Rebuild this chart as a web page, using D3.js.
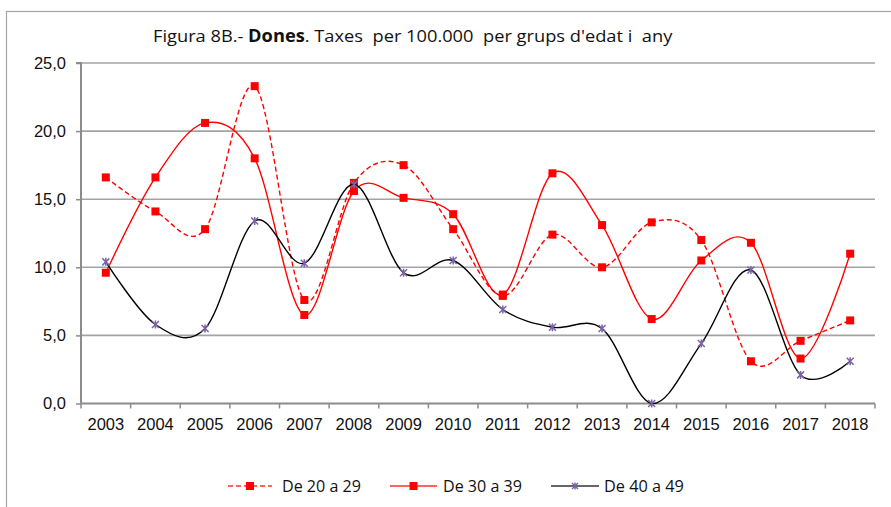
<!DOCTYPE html>
<html>
<head>
<meta charset="utf-8">
<script src="https://cdn.jsdelivr.net/npm/d3@7"></script>
<style>
  html, body { margin: 0; padding: 0; background: #fff; }
  svg { display: block; }
</style>
</head>
<body>
<svg id="chart" width="891" height="507"></svg>
<script>
const years = ["2003","2004","2005","2006","2007","2008","2009","2010","2011","2012","2013","2014","2015","2016","2017","2018"];
const s20_29 = [16.6, 14.1, 12.8, 23.3, 7.6, 16.2, 17.5, 12.8, 7.9, 12.4, 10.0, 13.3, 12.0, 3.1, 4.6, 6.1];
const s30_39 = [9.6, 16.6, 20.6, 18.0, 6.5, 15.6, 15.1, 13.9, 8.0, 16.9, 13.1, 6.2, 10.5, 11.8, 3.3, 11.0];
const s40_49 = [10.4, 5.8, 5.5, 13.4, 10.3, 16.1, 9.6, 10.5, 6.9, 5.6, 5.5, 0.0, 4.4, 9.8, 2.1, 3.1];
const yTicks = [0, 5, 10, 15, 20, 25];
const yTickLabels = ["0,0", "5,0", "10,0", "15,0", "20,0", "25,0"];
const seriesNames = ["De 20 a 29", "De 30 a 39", "De 40 a 49"];
const titleParts = [
  {t: "Figura 8B.- ", b: false},
  {t: "Dones", b: true},
  {t: ". Taxes  per 100.000  per grups d'edat i  any", b: false}
];

const svg = d3.select("#chart");
const RED = "#ff0000", PURPLE = "#7a63a8", GRID = "#a3a3a3", AXIS = "#8c8c8c";

// Outer frame
svg.append("rect").attr("x", 6.5).attr("y", 11.5).attr("width", 900).attr("height", 520)
  .attr("fill", "none").attr("stroke", "#a6a6a6").attr("stroke-width", 1.2);

const x = d3.scaleBand().domain(years).range([81, 875]);
const y = d3.scaleLinear().domain([0, 25]).range([403.5, 63]);
const cx = d => x(d) + x.bandwidth() / 2;

// Grid lines
svg.append("g").selectAll("line").data(yTicks.filter(v => v > 0)).join("line")
  .attr("x1", 81).attr("x2", 875).attr("y1", d => y(d)).attr("y2", d => y(d))
  .attr("stroke", GRID).attr("stroke-width", 1.6);

// Y axis
const yAxis = d3.axisLeft(y).tickValues(yTicks).tickSize(5)
  .tickFormat((d, i) => yTickLabels[i]);
const gy = svg.append("g").attr("transform", "translate(81,0)").call(yAxis);
gy.select(".domain").attr("stroke", AXIS).attr("stroke-width", 2).attr("d", `M-5,${y(25)}H0V${y(0)}`);
gy.selectAll(".tick line").attr("stroke", AXIS).attr("stroke-width", 1.5);
gy.selectAll(".tick text").attr("x", -15).attr("fill", "#111")
  .style("font-family", "'Liberation Sans', Arial, sans-serif").style("font-size", "16.5px");

// X axis
const gx = svg.append("g").attr("transform", `translate(0,${y(0)})`);
gx.append("line").attr("x1", 81).attr("x2", 875).attr("y1", 0).attr("y2", 0)
  .attr("stroke", AXIS).attr("stroke-width", 2);
const bounds = years.map(d => x(d)).concat([x(years[years.length - 1]) + x.bandwidth()]);
gx.selectAll("line.tk").data(bounds).join("line").attr("class", "tk")
  .attr("x1", d => d).attr("x2", d => d).attr("y1", 0).attr("y2", 5)
  .attr("stroke", AXIS).attr("stroke-width", 1.5);
gx.selectAll("text").data(years).join("text")
  .attr("x", d => cx(d)).attr("y", 26.5).attr("text-anchor", "middle").attr("fill", "#111")
  .style("font-family", "'Liberation Sans', Arial, sans-serif").style("font-size", "16.5px")
  .text(d => d);

// Lines
const line = d3.line().x((d, i) => cx(years[i])).y(d => y(d)).curve(d3.curveCatmullRom.alpha(0));

function squares(g, data) {
  g.selectAll("rect").data(data).join("rect")
    .attr("x", (d, i) => cx(years[i]) - 4).attr("y", d => y(d) - 4)
    .attr("width", 8).attr("height", 8).attr("fill", RED);
}
const starPath = "M-3.5,-3.5L3.5,3.5M-3.5,3.5L3.5,-3.5M0,-4L0,4";

const g1 = svg.append("g");
g1.append("path").attr("d", line(s20_29)).attr("fill", "none").attr("stroke", RED)
  .attr("stroke-width", 1.4).attr("stroke-dasharray", "5,3");
squares(g1, s20_29);

const g2 = svg.append("g");
g2.append("path").attr("d", line(s30_39)).attr("fill", "none").attr("stroke", RED).attr("stroke-width", 1.4);
squares(g2, s30_39);

const g3 = svg.append("g");
g3.append("path").attr("d", line(s40_49)).attr("fill", "none").attr("stroke", "#000").attr("stroke-width", 1.4);
g3.selectAll("path.star").data(s40_49).join("path").attr("class", "star")
  .attr("transform", (d, i) => `translate(${cx(years[i])},${y(d)})`)
  .attr("d", starPath).attr("stroke", PURPLE).attr("stroke-width", 1.5).attr("fill", "none");

// Fit helper: scale text horizontally to a target width
function fit(sel, x0, yb, w) {
  const bw = sel.node().getComputedTextLength();
  sel.attr("transform", `translate(${x0},${yb}) scale(${w / bw},1)`);
}

// Title
const title = svg.append("text").attr("x", 0).attr("y", 0)
  .style("font-family", "'Open Sans', 'Noto Sans', sans-serif").style("font-size", "17px")
  .style("white-space", "pre").attr("fill", "#111");
titleParts.forEach(p => title.append("tspan").attr("font-weight", p.b ? "bold" : "normal").text(p.t));
fit(title, 153, 42, 520);

// Legend
const legend = svg.append("g");
const legendItems = [
  {name: seriesNames[0], x0: 228, x1: 272, tx: 282, tw: 79, dash: "5,3", color: RED, mark: "sq"},
  {name: seriesNames[1], x0: 390, x1: 437, tx: 443, tw: 79, dash: null, color: RED, mark: "sq"},
  {name: seriesNames[2], x0: 551, x1: 599, tx: 604, tw: 80, dash: null, color: "#000", mark: "star"}
];
legendItems.forEach(it => {
  const ly = 486;
  const l = legend.append("line").attr("x1", it.x0).attr("x2", it.x1).attr("y1", ly).attr("y2", ly)
    .attr("stroke", it.color === RED ? "#ff3030" : "#333").attr("stroke-width", 1.4);
  if (it.dash) l.attr("stroke-dasharray", it.dash);
  const mx = (it.x0 + it.x1) / 2;
  if (it.mark === "sq") {
    legend.append("rect").attr("x", mx - 4).attr("y", ly - 4).attr("width", 8).attr("height", 8).attr("fill", RED);
  } else {
    legend.append("path").attr("d", "M-3,-3L3,3M-3,3L3,-3M0,-3.5L0,3.5")
      .attr("transform", `translate(${mx},${ly})`).attr("stroke", PURPLE).attr("stroke-width", 1.4);
  }
  const t = legend.append("text").attr("fill", "#111")
    .style("font-family", "'Open Sans', 'Noto Sans', sans-serif").style("font-size", "16px")
    .text(it.name);
  fit(t, it.tx, ly + 6, it.tw);
});
</script>
</body>
</html>
